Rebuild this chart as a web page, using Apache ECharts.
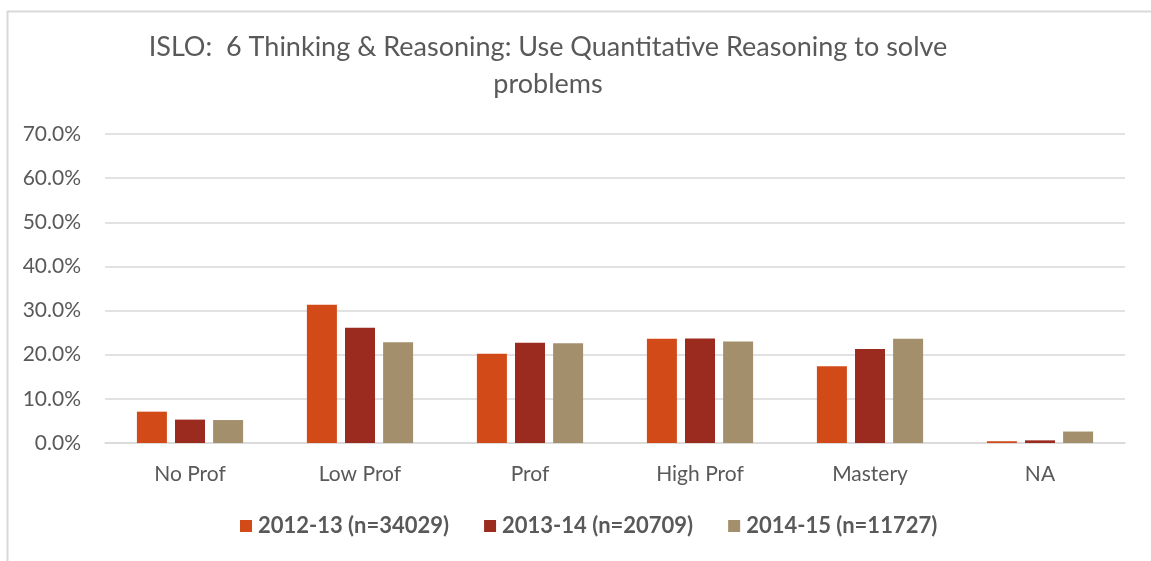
<!DOCTYPE html>
<html>
<head>
<meta charset="utf-8">
<script src="https://cdn.jsdelivr.net/npm/echarts@6/dist/echarts.min.js"></script>
<style>html,body{margin:0;padding:0;background:#fff;}#c{width:1151px;height:561px;}</style>
</head>
<body>
<div id="c"></div>
<script>
const categories = ['No Prof', 'Low Prof', 'Prof', 'High Prof', 'Mastery', 'NA'];
const seriesNames = ['2012-13 (n=34029)', '2013-14 (n=20709)', '2014-15 (n=11727)'];
const s2012 = [7.1, 31.3, 20.2, 23.6, 17.4, 0.4];
const s2013 = [5.3, 26.1, 22.7, 23.7, 21.3, 0.6];
const s2014 = [5.2, 22.8, 22.6, 23.0, 23.6, 2.6];
const yTicks = [0, 10, 20, 30, 40, 50, 60, 70];
const colors = ['#D24A17', '#9B2B1F', '#A48F6C'];
const titleLines = ['ISLO:  6 Thinking & Reasoning: Use Quantitative Reasoning to solve', 'problems'];

const font = 'Lato, "Open Sans", sans-serif';
const chart = echarts.init(document.getElementById('c'), null, {renderer: 'canvas'});
const data = [s2012, s2013, s2014];
chart.setOption({
  backgroundColor: '#ffffff',
  animation: false,
  color: colors,
  title: {
    text: titleLines.join('\n'),
    left: 543, top: 24,
    textAlign: 'center',
    textStyle: {fontFamily: font, fontSize: 27, fontWeight: 'normal', color: '#595959', lineHeight: 37}
  },
  graphic: [{
    type: 'rect', left: 5, top: 9, silent: true,
    shape: {width: 1200, height: 600},
    style: {fill: 'none', stroke: '#d9d9d9', lineWidth: 2}
  }],
  legend: {
    bottom: 19, left: 235,
    itemWidth: 12, itemHeight: 12, itemGap: 35,
    icon: 'rect',
    textStyle: {fontFamily: font, fontSize: 22, fontWeight: 'bold', color: '#595959', padding: [0,0,0,1]},
    data: seriesNames
  },
  grid: {left: 105, right: 26, top: 134, bottom: 118},
  xAxis: {
    type: 'category', data: categories,
    axisLine: {lineStyle: {color: '#d9d9d9', width: 1.5}},
    axisTick: {show: false},
    axisLabel: {fontFamily: font, fontSize: 21, color: '#595959', margin: 21}
  },
  yAxis: {
    type: 'value', min: 0, max: 70, interval: 10,
    axisLine: {show: false}, axisTick: {show: false},
    splitLine: {lineStyle: {color: '#d9d9d9', width: 1.5}},
    axisLabel: {fontFamily: font, fontSize: 21, color: '#595959', margin: 24,
      formatter: v => yTicks.includes(v) ? v.toFixed(1) + '%' : ''}
  },
  series: seriesNames.map((n, i) => ({
    name: n, type: 'bar', data: data[i],
    barWidth: 30, barGap: '27%',
    itemStyle: {color: colors[i]}
  }))
});
</script>
</body>
</html>
